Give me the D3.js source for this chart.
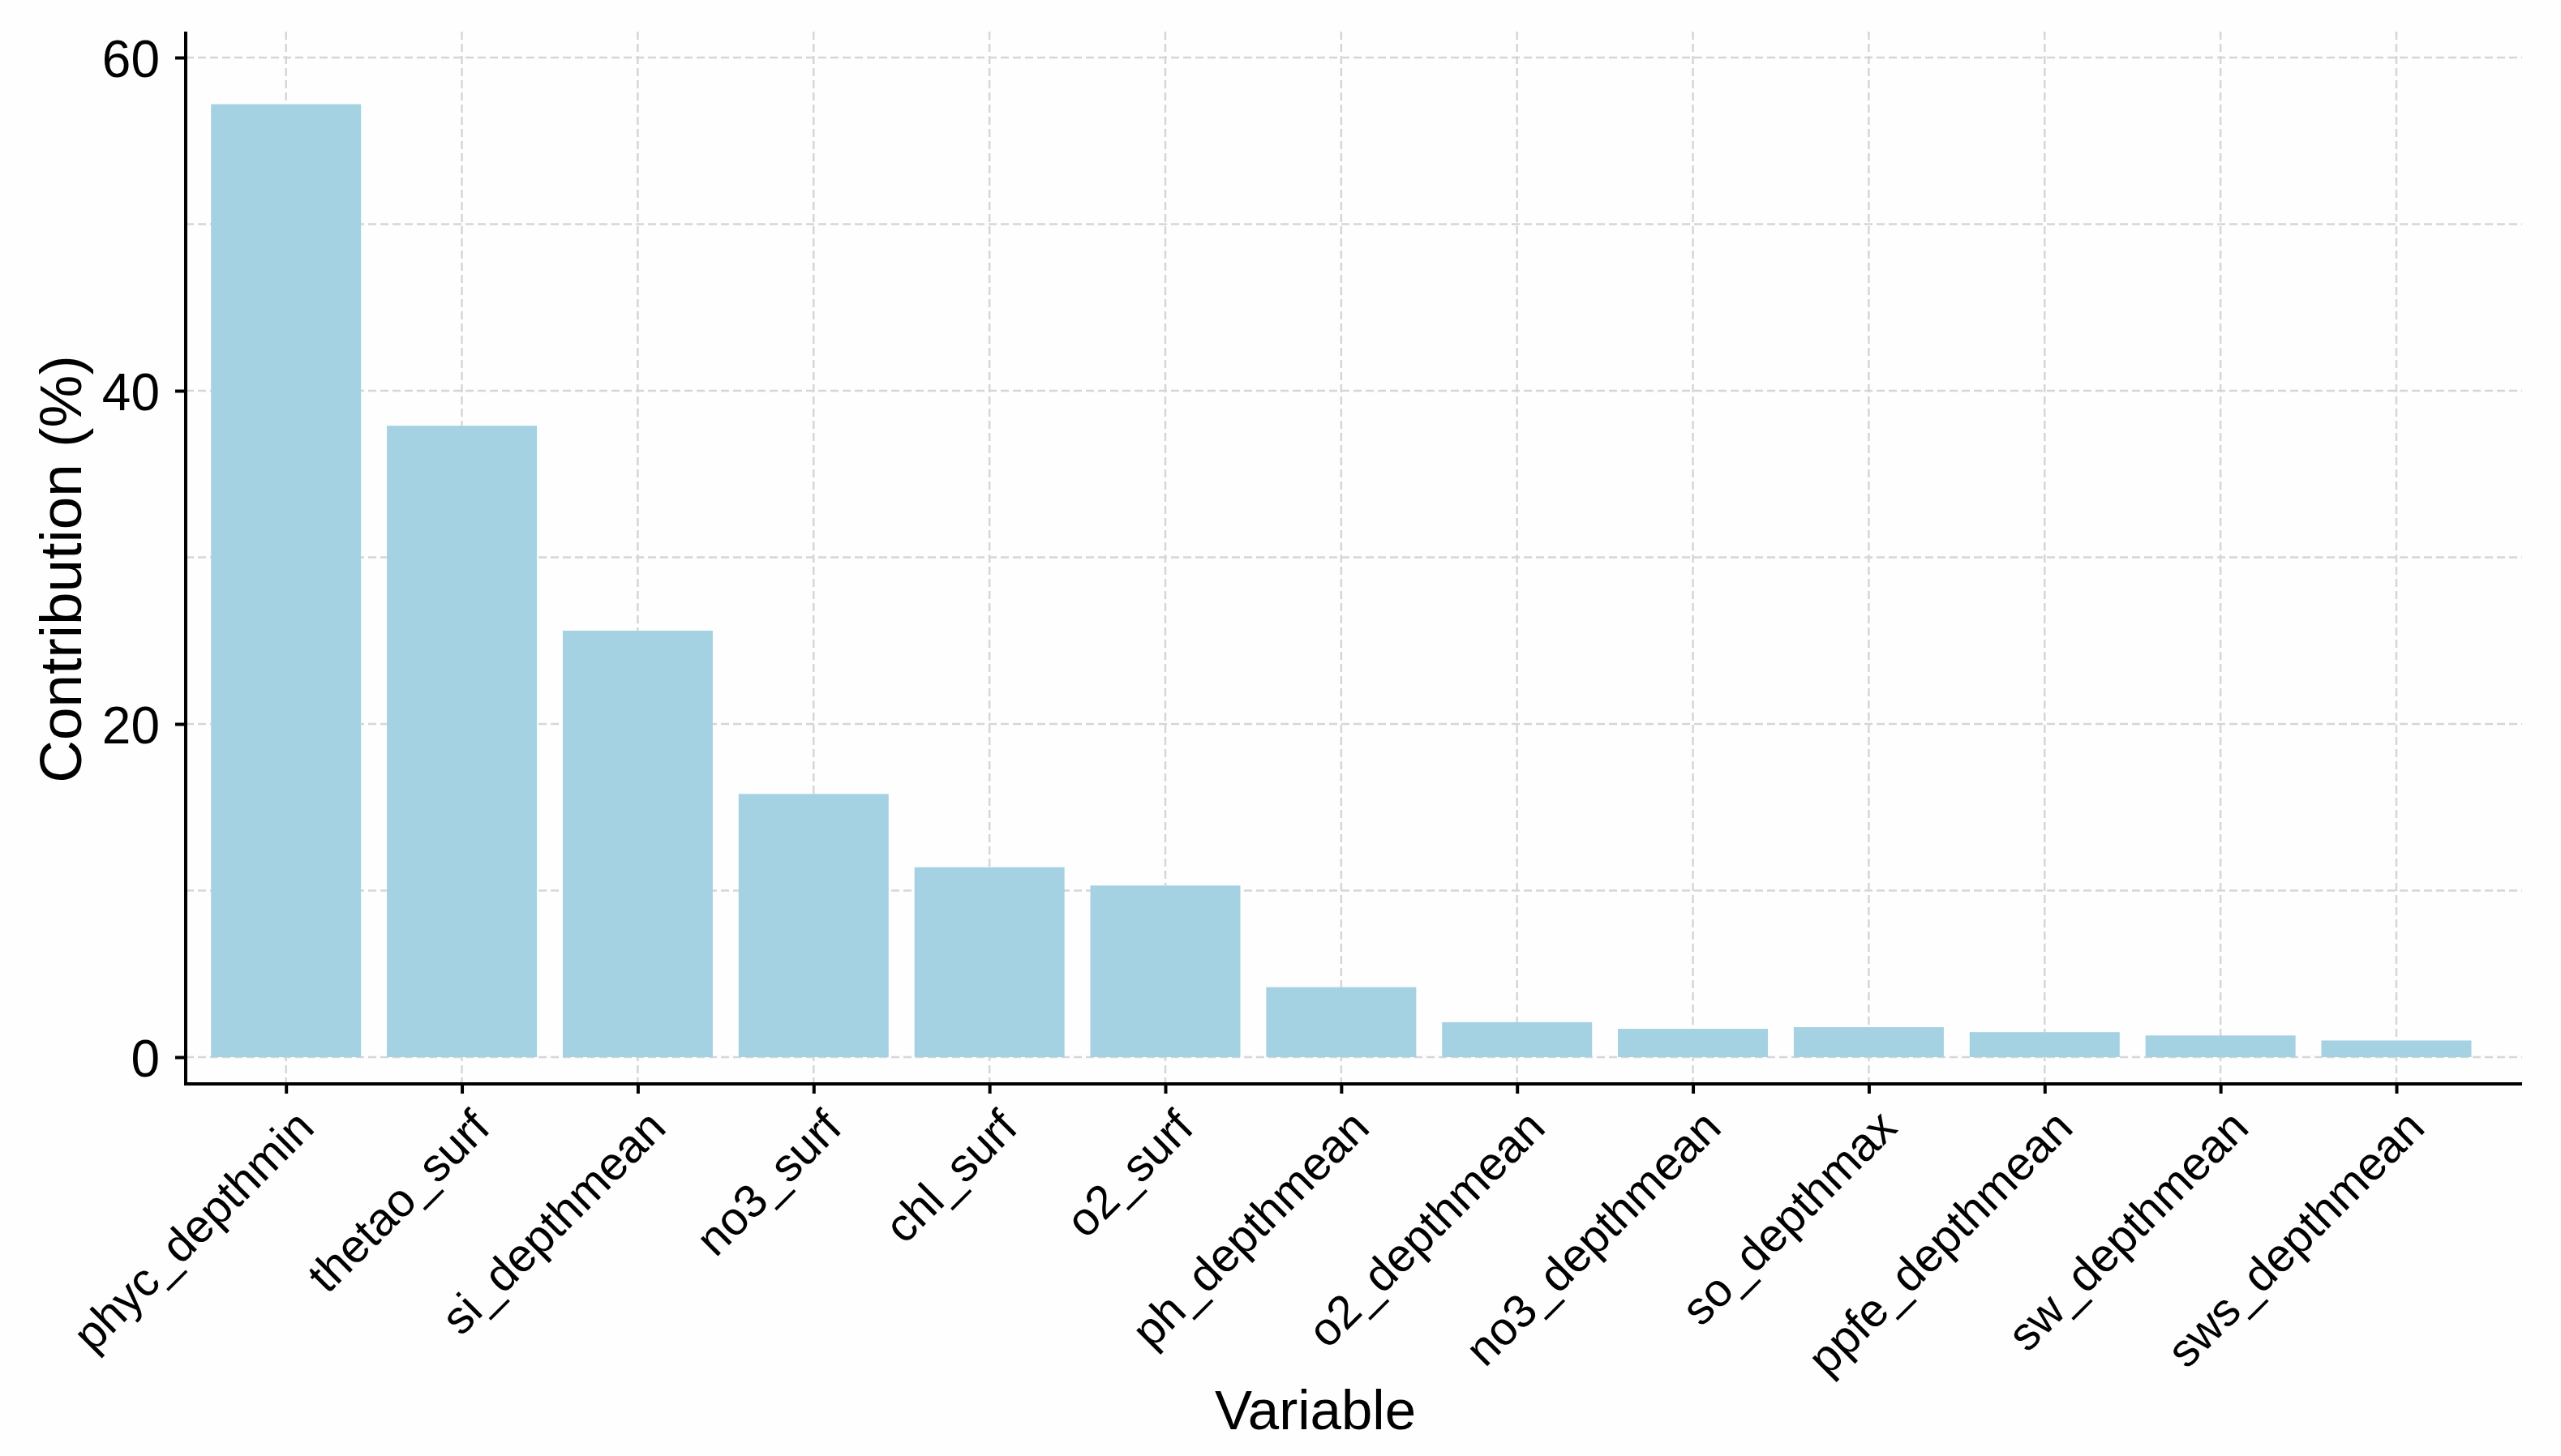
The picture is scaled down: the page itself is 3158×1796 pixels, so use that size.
<!DOCTYPE html>
<html>
<head>
<meta charset="utf-8">
<script src="https://cdn.jsdelivr.net/npm/d3@7"></script>
<style>
  body { margin: 0; background: #ffffff; }
  text { font-family: 'Liberation Sans', Arial, Helvetica, sans-serif; fill: #000000; }
</style>
</head>
<body>
<div id="divChart"></div>
<script>
// values
var variables = ['phyc_depthmin', 'thetao_surf', 'si_depthmean', 'no3_surf', 'chl_surf', 'o2_surf',
  'ph_depthmean', 'o2_depthmean', 'no3_depthmean', 'so_depthmax', 'ppfe_depthmean', 'sw_depthmean', 'sws_depthmean']
var contributions = [57.2, 37.9, 25.6, 15.8, 11.4, 10.3, 4.2, 2.1, 1.7, 1.8, 1.5, 1.3, 1.0]
var yTicks = [0, 20, 40, 60]
var yGrid = [0, 10, 20, 30, 40, 50, 60]

// global store for the chart parameters
var chart = {}

function initChart () {
  chart.width = 3158
  chart.height = 1796
  // panel edges
  chart.left = 229
  chart.right = 3110
  chart.top = 39
  chart.bottom = 1337

  chart.xScale = d3.scalePoint().domain(variables).range([352.7, 2955])
  chart.yScale = d3.scaleLinear().domain([0, 60]).range([1304, 71])
  chart.barWidth = 185

  chart.svg = d3
    .select('#divChart')
    .append('svg')
    .attr('width', chart.width)
    .attr('height', chart.height)

  chart.svg.append('rect')
    .attr('width', chart.width)
    .attr('height', chart.height)
    .attr('fill', '#fefefe')
}

function drawGrid () {
  var g = chart.svg.append('g').attr('id', 'g-grid')

  // horizontal grid (major + minor)
  g.selectAll('.hgrid')
    .data(yGrid)
    .enter()
    .append('line')
    .attr('class', 'hgrid')
    .attr('x1', chart.left)
    .attr('x2', chart.right)
    .attr('y1', function (d) { return chart.yScale(d) })
    .attr('y2', function (d) { return chart.yScale(d) })
    .attr('stroke', '#d6d6d6')
    .attr('stroke-width', 2.5)
    .attr('stroke-dasharray', '10,5')

  // vertical grid at each variable
  g.selectAll('.vgrid')
    .data(variables)
    .enter()
    .append('line')
    .attr('class', 'vgrid')
    .attr('x1', function (d) { return chart.xScale(d) })
    .attr('x2', function (d) { return chart.xScale(d) })
    .attr('y1', chart.top)
    .attr('y2', chart.bottom)
    .attr('stroke', '#d6d6d6')
    .attr('stroke-width', 2.5)
    .attr('stroke-dasharray', '10,5')
}

function drawBars () {
  chart.svg.append('g')
    .attr('id', 'g-bars')
    .selectAll('rect')
    .data(contributions)
    .enter()
    .append('rect')
    .attr('x', function (d, i) { return chart.xScale(variables[i]) - chart.barWidth / 2 })
    .attr('y', function (d) { return chart.yScale(d) })
    .attr('width', chart.barWidth)
    .attr('height', function (d) { return chart.yScale(0) - chart.yScale(d) })
    .attr('fill', '#a5d2e3')
}

function drawAxes () {
  var yAxis = d3.axisLeft(chart.yScale).tickValues(yTicks).tickSize(13).tickPadding(19)
  var xAxis = d3.axisBottom(chart.xScale).tickSize(12).tickFormat(function (d) { return d })

  var gy = chart.svg.append('g')
    .attr('id', 'g-yAxis')
    .attr('transform', 'translate(' + chart.left + ',0)')
    .call(yAxis)
  gy.select('.domain').remove()
  gy.selectAll('line').attr('stroke', '#000').attr('stroke-width', 4)
  gy.selectAll('text')
    .attr('font-size', 64)
    .attr('dy', '0.36em')

  var gx = chart.svg.append('g')
    .attr('id', 'g-xAxis')
    .attr('transform', 'translate(0,' + chart.bottom + ')')
    .call(xAxis)
  gx.select('.domain').remove()
  gx.selectAll('line').attr('stroke', '#000').attr('stroke-width', 4)
  gx.selectAll('text')
    .attr('font-size', 57.5)
    .attr('y', 0)
    .attr('dy', 0)
    .style('text-anchor', 'end')
    .attr('transform', 'translate(37,57) rotate(-45)')

  // axis lines
  chart.svg.append('line')
    .attr('x1', chart.left)
    .attr('x2', chart.left)
    .attr('y1', chart.top)
    .attr('y2', chart.bottom + 2)
    .attr('stroke', '#000')
    .attr('stroke-width', 4)
  chart.svg.append('line')
    .attr('x1', chart.left - 2)
    .attr('x2', chart.right)
    .attr('y1', chart.bottom)
    .attr('y2', chart.bottom)
    .attr('stroke', '#000')
    .attr('stroke-width', 4)

  // axis titles
  chart.svg.append('text')
    .attr('x', 1622)
    .attr('y', 1763)
    .attr('font-size', 69)
    .attr('text-anchor', 'middle')
    .text('Variable')
  chart.svg.append('text')
    .attr('transform', 'translate(100,702) rotate(-90)')
    .attr('font-size', 73)
    .attr('text-anchor', 'middle')
    .text('Contribution (%)')
}

initChart()
drawGrid()
drawBars()
drawAxes()
</script>
</body>
</html>
